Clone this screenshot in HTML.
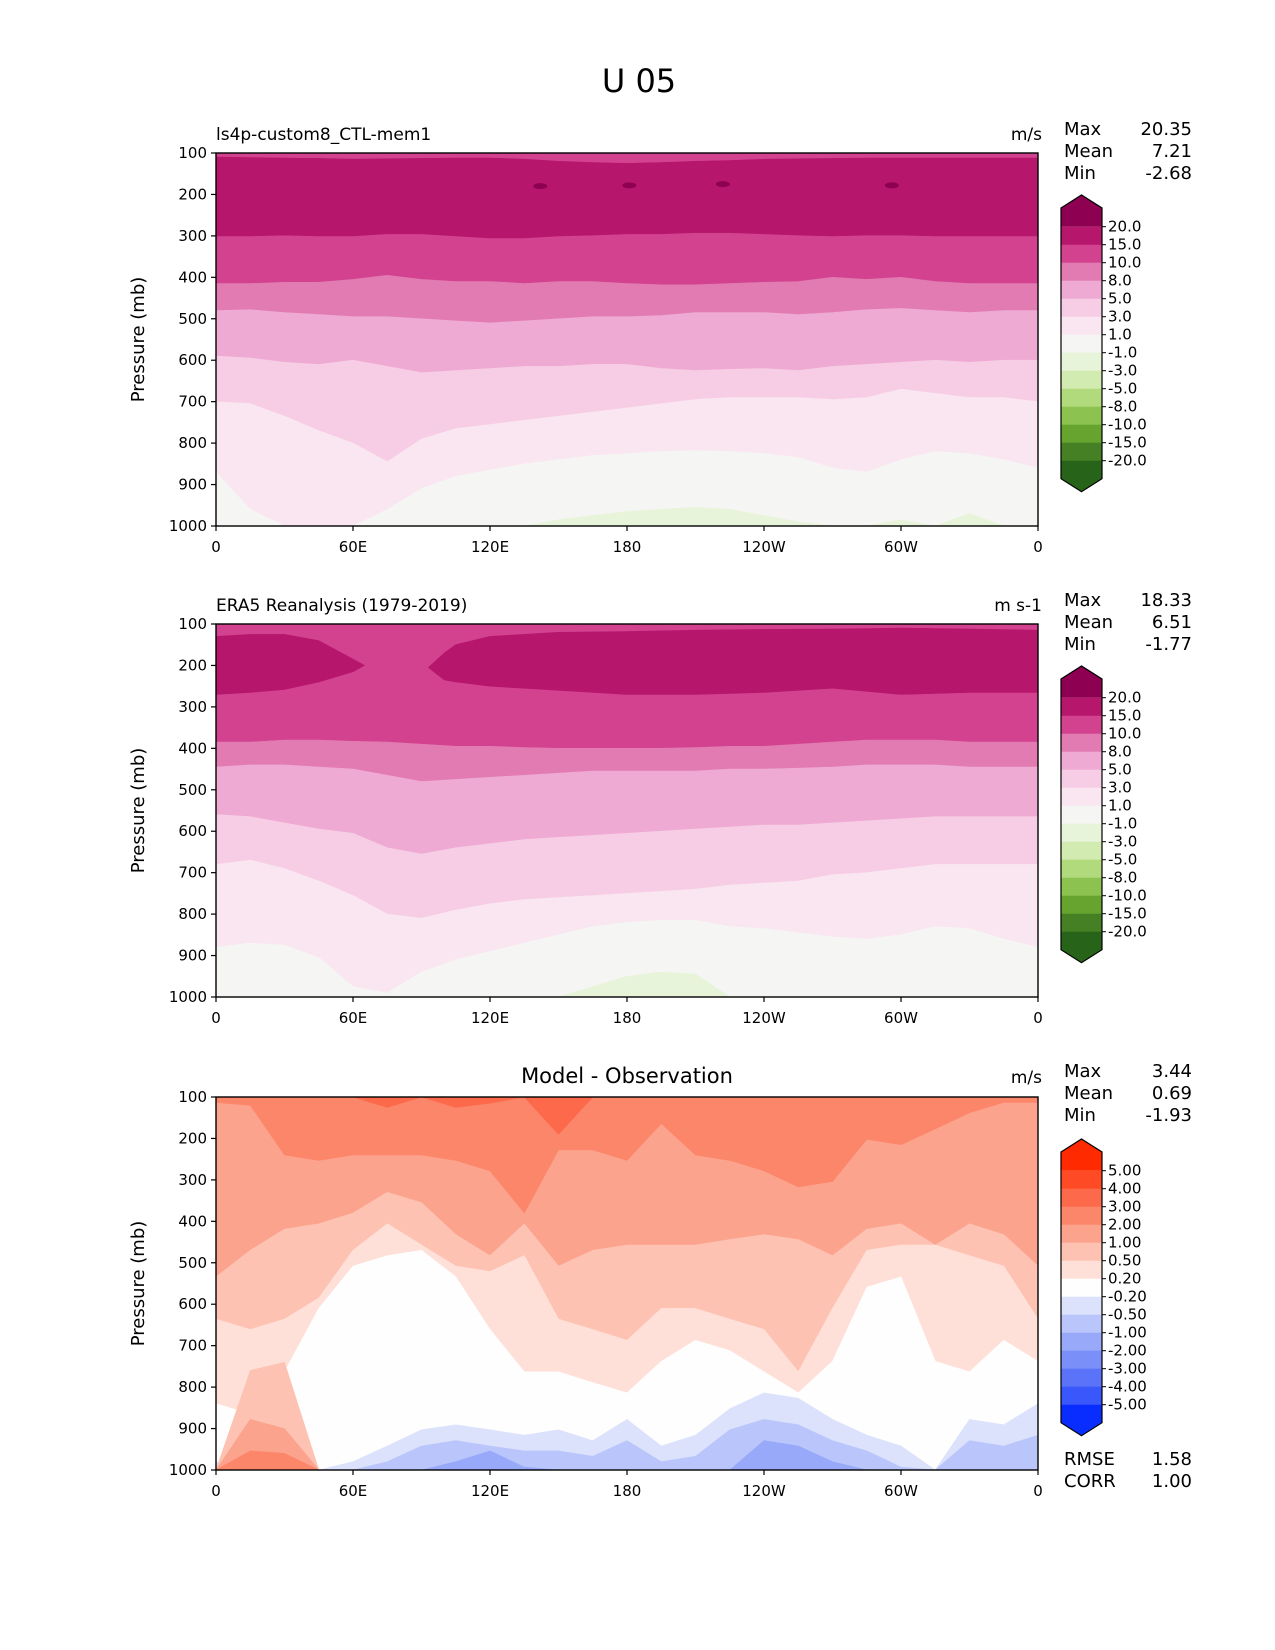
<!DOCTYPE html>
<html><head><meta charset="utf-8"><style>
html,body{margin:0;padding:0;background:#fff}
svg{display:block;font-family:"DejaVu Sans","Liberation Sans",sans-serif}
</style></head><body>
<svg id="fig" width="1275" height="1650" viewBox="0 0 1275 1650" xmlns="http://www.w3.org/2000/svg">
<text x="639" y="92" font-size="32" text-anchor="middle">U 05</text>
<g id="root"></g>
</svg>
<script>
// ---------- data ----------
const lons = [0,15,30,45,60,75,90,105,120,135,150,165,180,195,210,225,240,255,270,285,300,315,330,345,360];
const pressureTicks = [100,200,300,400,500,600,700,800,900,1000];
const lonTickVals = [0,60,120,180,240,300,360];
const lonTickLabels = ["0","60E","120E","180","120W","60W","0"];

const fieldLevels = ["20.0","15.0","10.0","8.0","5.0","3.0","1.0","-1.0","-3.0","-5.0","-8.0","-10.0","-15.0","-20.0"];
const fieldColors = ["#8e0152","#b6166c","#d2428f","#e17bb2","#eeaad2","#f7cde5","#f9e6f0","#f5f5f3","#e8f4d9","#d2ebb0","#b1da7d","#8cc250","#67a42f","#458024","#27641a"];
const diffLevels = ["5.00","4.00","3.00","2.00","1.00","0.50","0.20","-0.20","-0.50","-1.00","-2.00","-3.00","-4.00","-5.00"];
const diffColors = ["#ff2a00","#fe4a25","#fd6a4b","#fc866a","#fca38e","#fdc2b2","#fee0d8","#fefefe","#dce2fb","#bac6fb","#97a9f8","#7a8ff7","#5a73f8","#3a57fb","#0a2dff"];

// Panel 1 (model) boundaries, mb
const m_top15 = [110,111,112,113,115,114,113,112,112,115,120,123,125,123,120,118,115,114,113,112,112,112,112,112,112];
const m_b10 = [300,300,298,300,300,295,295,300,305,305,300,298,295,295,292,292,295,298,300,298,298,300,300,300,300];
const m_b8 = [415,415,412,412,405,395,405,410,410,415,410,410,415,418,418,415,412,410,400,405,400,410,415,415,415];
const m_b5 = [480,478,485,490,495,495,500,505,510,505,500,495,495,492,485,485,485,490,485,478,475,480,485,480,480];
const m_b3 = [590,595,605,610,600,615,630,625,620,615,615,610,610,620,625,622,620,625,615,610,605,600,605,600,600];
const m_b1 = [700,705,735,770,800,845,790,765,755,745,735,725,715,705,695,690,690,690,695,690,670,680,690,690,700];
const m_bm1 = [870,960,1000,1000,1000,960,910,880,865,850,840,830,825,820,818,820,825,835,860,870,840,820,825,840,860];
const m_bm3 = [1000,1000,1000,1000,1000,1000,1000,1000,1000,1000,985,975,965,960,955,960,975,990,1000,1000,985,1000,970,1000,1000];
const m_maxLon = [142,181,222,296];
const m_maxP = [180,178,175,178];

// Panel 2 (ERA5) boundaries, mb
const o_blobA_lon = [0,15,30,45,60,65];
const o_blobA_top = [130,125,125,140,185,200];
const o_blobA_bot = [270,265,258,240,215,200];
const o_blobB_lon = [93,100,105,120,150,180,210,240,270,300,330,360];
const o_blobB_top = [205,170,150,130,120,118,115,113,112,110,112,115];
const o_blobB_bot = [205,235,240,250,260,270,270,265,255,270,265,265];
const o_b8 = [385,385,380,380,383,385,390,395,395,398,400,400,400,400,398,395,395,390,385,380,380,380,385,385,385];
const o_b5 = [445,440,440,445,450,465,480,475,470,465,460,455,455,455,455,450,450,448,445,440,440,440,445,445,445];
const o_b3 = [560,565,580,595,605,640,655,640,630,620,615,610,605,600,595,590,585,585,580,575,570,565,565,565,565];
const o_b1 = [680,670,690,720,755,800,810,790,775,765,760,755,750,745,740,730,725,720,705,700,690,680,680,680,680];
const o_bm1 = [880,870,875,905,975,990,940,910,890,870,850,830,820,815,815,830,835,845,855,860,850,830,835,860,880];
const o_bm3 = [1000,1000,1000,1000,1000,1000,1000,1000,1000,1000,1000,975,950,940,945,1000,1000,1000,1000,1000,1000,1000,1000,1000,1000];

// Panel 3 (difference) boundaries, mb
const d_b34 = [100,100,100,100,100,125,100,125,115,100,190,100,100,100,100,100,100,100,100,100,100,100,100,100,100];
const d_b23 = [113,120,240,253,240,240,240,253,278,380,228,228,253,164,240,253,278,317,304,202,215,177,138,113,113];
const d_b051 = [534,470,419,406,380,330,355,432,483,406,508,470,457,457,457,444,432,444,483,419,406,457,406,432,508];
const d_b0205 = [636,661,636,585,470,406,457,508,521,483,636,661,687,610,610,636,661,763,610,470,457,457,483,508,636];
const d_bw = [840,865,763,610,508,483,470,534,661,763,763,789,814,738,687,712,763,814,738,559,534,738,763,687,738];
const d_bb1 = [980,1000,1000,1000,980,942,903,891,903,916,903,929,878,942,916,852,814,827,878,916,942,1000,878,891,840];
const d_bb2 = [1000,1000,1000,1000,1000,980,942,929,942,954,954,967,929,980,967,903,878,891,929,954,993,1000,929,942,916];
const d_bb3 = [1000,1000,1000,1000,1000,1000,1000,980,954,993,1000,1000,1000,1000,1000,1000,929,942,980,1000,1000,1000,1000,1000,1000];
const d_red1 = [1000,760,740,1000,1000,1000,1000,1000,1000,1000,1000,1000,1000,1000,1000,1000,1000,1000,1000,1000,1000,1000,1000,1000,1000];
const d_red2 = [1000,878,900,1000,1000,1000,1000,1000,1000,1000,1000,1000,1000,1000,1000,1000,1000,1000,1000,1000,1000,1000,1000,1000,1000];
const d_red3 = [1000,954,960,1000,1000,1000,1000,1000,1000,1000,1000,1000,1000,1000,1000,1000,1000,1000,1000,1000,1000,1000,1000,1000,1000];

const stats1 = ["20.35","7.21","-2.68"];
const stats2 = ["18.33","6.51","-1.77"];
const stats3 = ["3.44","0.69","-1.93"];
const errStats = ["1.58","1.00"];

// ---------- drawing ----------
const NS = "http://www.w3.org/2000/svg";
const root = document.getElementById('root');
const X0 = 216, W = 822, H = 373;
function xOf(lon){ return X0 + lon/360*W; }
function yOf(p, top){ return top + (p-100)/900*H; }
function mk(tag, attrs, parent){
  const e = document.createElementNS(NS, tag);
  for (const k in attrs) e.setAttribute(k, attrs[k]);
  (parent||root).appendChild(e);
  return e;
}
function band(g, top, color, lonArr, upper, lower, name){
  const pts = [];
  for (let i=0;i<lonArr.length;i++) pts.push(xOf(lonArr[i]).toFixed(1)+','+yOf(upper?upper[i]:100, top).toFixed(1));
  for (let i=lonArr.length-1;i>=0;i--) pts.push(xOf(lonArr[i]).toFixed(1)+','+yOf(lower?lower[i]:1000, top).toFixed(1));
  const p = mk('polygon', {points: pts.join(' '), fill: color, stroke: color, 'stroke-width': 0.6}, g);
  
  
}
function axes(top, idx){
  const g = mk('g', {});
  
  
  pressureTicks.forEach(p => {
    const y = yOf(p, top);
    mk('line', {x1: X0-5, x2: X0, y1: y, y2: y, stroke: '#000', 'stroke-width': 1.2}, g);
    const t = mk('text', {x: X0-9, y: y+5, 'font-size': 15, 'text-anchor': 'end'}, g);
    t.textContent = p;
    
    
  });
  lonTickVals.forEach((l, i) => {
    const x = xOf(l);
    mk('line', {x1: x, x2: x, y1: top+H, y2: top+H+5, stroke: '#000', 'stroke-width': 1.2}, g);
    const t = mk('text', {x: x, y: top+H+26, 'font-size': 15, 'text-anchor': 'middle'}, g);
    t.textContent = lonTickLabels[i];
    
    
  });
  const yl = mk('text', {x: 0, y: 0, 'font-size': 18, 'text-anchor': 'middle', transform: 'translate(144,' + (top+H/2) + ') rotate(-90)'}, g);
  yl.textContent = 'Pressure (mb)';
  
  
  mk('rect', {x: X0, y: top, width: W, height: H, fill: 'none', stroke: '#000', 'stroke-width': 1.4}, g);
}
function colorbar(top, colors, labels, idx){
  const g = mk('g', {});
  
  
  const x1 = 1061, x2 = 1102, ap = top+42, rt = top+55, b0 = top+73.7, step = 18;
  const bEnd = b0 + 13*step;
  mk('polygon', {points: `${x1},${rt} ${(x1+x2)/2},${ap} ${x2},${rt} ${x2},${b0} ${x1},${b0}`, fill: colors[0]}, g);
  for (let k=0;k<13;k++) mk('rect', {x: x1, y: b0+k*step, width: x2-x1, height: step+0.5, fill: colors[k+1]}, g);
  mk('polygon', {points: `${x1},${bEnd} ${x2},${bEnd} ${x2},${bEnd+18} ${(x1+x2)/2},${bEnd+31} ${x1},${bEnd+18}`, fill: colors[14]}, g);
  mk('polygon', {points: `${x1},${rt} ${(x1+x2)/2},${ap} ${x2},${rt} ${x2},${bEnd+18} ${(x1+x2)/2},${bEnd+31} ${x1},${bEnd+18}`, fill: 'none', stroke: '#000', 'stroke-width': 1.2}, g);
  labels.forEach((lab, k) => {
    const y = b0 + k*step;
    mk('line', {x1: x2, x2: x2+4, y1: y, y2: y, stroke: '#000', 'stroke-width': 1}, g);
    const t = mk('text', {x: x2+6, y: y+5, 'font-size': 15}, g);
    t.textContent = lab;
    
    
  });
}
function stats(top, names, vals, idx){
  names.forEach((n, i) => {
    const y = top + i*22;
    const a = mk('text', {x: 1064, y: y, 'font-size': 18});
    a.textContent = n;
    
    
    const b = mk('text', {x: 1192, y: y, 'font-size': 18, 'text-anchor': 'end'});
    b.textContent = vals[i];
    
    
  });
}
function clipG(top, id){
  const cp = mk('clipPath', {id: id});
  mk('rect', {x: X0, y: top, width: W, height: H}, cp);
  const g = mk('g', {'clip-path': 'url(#' + id + ')'});
  return g;
}
function label(x, y, txt, anchor, size, name){
  const t = mk('text', {x: x, y: y, 'font-size': size, 'text-anchor': anchor});
  t.textContent = txt;
  
  
}

// Panel 1
const T1 = 153;
const g1 = clipG(T1, 'c1');


band(g1, T1, fieldColors[2], lons, null, null, 'band-10-15');
band(g1, T1, fieldColors[1], lons, m_top15, m_b10, 'band-15-20');
band(g1, T1, fieldColors[3], lons, m_b8, null, 'band-8-10');
band(g1, T1, fieldColors[4], lons, m_b5, null, 'band-5-8');
band(g1, T1, fieldColors[5], lons, m_b3, null, 'band-3-5');
band(g1, T1, fieldColors[6], lons, m_b1, null, 'band-1-3');
band(g1, T1, fieldColors[7], lons, m_bm1, null, 'band-neutral');
band(g1, T1, fieldColors[8], lons, m_bm3, null, 'band-neg1-3');
m_maxLon.forEach((l, i) => {
  const e = mk('ellipse', {cx: xOf(l), cy: yOf(m_maxP[i], T1), rx: 7, ry: 3, fill: fieldColors[0]}, g1);
  
  
});
axes(T1, 1);
colorbar(T1, fieldColors, fieldLevels, 1);
label(X0, 140, 'ls4p-custom8_CTL-mem1', 'start', 17, 'panel1-title');
label(1042, 140, 'm/s', 'end', 17, 'panel1-units');
stats(135, ['Max','Mean','Min'], stats1, 1);

// Panel 2
const T2 = 624;
const g2 = clipG(T2, 'c2');


band(g2, T2, fieldColors[2], lons, null, null, 'band-10-15');
band(g2, T2, fieldColors[1], o_blobA_lon, o_blobA_top, o_blobA_bot, 'band-15-20-west');
band(g2, T2, fieldColors[1], o_blobB_lon, o_blobB_top, o_blobB_bot, 'band-15-20-east');
band(g2, T2, fieldColors[3], lons, o_b8, null, 'band-8-10');
band(g2, T2, fieldColors[4], lons, o_b5, null, 'band-5-8');
band(g2, T2, fieldColors[5], lons, o_b3, null, 'band-3-5');
band(g2, T2, fieldColors[6], lons, o_b1, null, 'band-1-3');
band(g2, T2, fieldColors[7], lons, o_bm1, null, 'band-neutral');
band(g2, T2, fieldColors[8], lons, o_bm3, null, 'band-neg1-3');
axes(T2, 2);
colorbar(T2, fieldColors, fieldLevels, 2);
label(X0, 611, 'ERA5 Reanalysis (1979-2019)', 'start', 17, 'panel2-title');
label(1042, 611, 'm s-1', 'end', 17, 'panel2-units');
stats(606, ['Max','Mean','Min'], stats2, 2);

// Panel 3
const T3 = 1097;
const g3 = clipG(T3, 'c3');


band(g3, T3, diffColors[4], lons, null, null, 'band-1-2');
band(g3, T3, diffColors[3], lons, null, d_b23, 'band-2-3');
band(g3, T3, diffColors[2], lons, null, d_b34, 'band-3-4');
band(g3, T3, diffColors[5], lons, d_b051, null, 'band-05-1');
band(g3, T3, diffColors[6], lons, d_b0205, null, 'band-02-05');
band(g3, T3, diffColors[7], lons, d_bw, null, 'band-neutral');
band(g3, T3, diffColors[8], lons, d_bb1, null, 'band-neg02-05');
band(g3, T3, diffColors[9], lons, d_bb2, null, 'band-neg05-1');
band(g3, T3, diffColors[10], lons, d_bb3, null, 'band-neg1-2');
band(g3, T3, diffColors[5], lons, d_red1, null, 'band-red-patch-05-1');
band(g3, T3, diffColors[4], lons, d_red2, null, 'band-red-patch-1-2');
band(g3, T3, diffColors[3], lons, d_red3, null, 'band-red-patch-2-3');
axes(T3, 3);
colorbar(T3, diffColors, diffLevels, 3);
label(627, 1083, 'Model - Observation', 'middle', 21, 'panel3-title');
label(1042, 1083, 'm/s', 'end', 17, 'panel3-units');
stats(1077, ['Max','Mean','Min'], stats3, 3);
stats(1465, ['RMSE','CORR'], errStats, 4);
</script>
</body></html>
